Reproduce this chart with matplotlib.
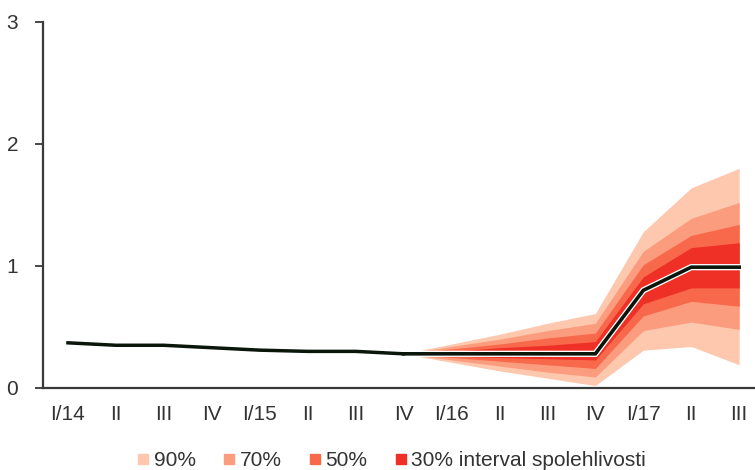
import matplotlib.pyplot as plt
from matplotlib.lines import Line2D

plt.rcParams['font.family'] = ['Liberation Sans', 'DejaVu Sans']

quarters = ['I/14', 'II', 'III', 'IV', 'I/15', 'II', 'III', 'IV',
            'I/16', 'II', 'III', 'IV', 'I/17', 'II', 'III']

# central path
central = [0.37, 0.35, 0.35, 0.33, 0.31, 0.30, 0.30, 0.28,
           0.28, 0.28, 0.28, 0.28, 0.80, 0.99, 0.99]

# fan starts at IV/15 (index 7)
fan_start = 7
lo90 = [0.28, 0.21, 0.14, 0.08, 0.02, 0.31, 0.34, 0.19]
lo70 = [0.28, 0.23, 0.18, 0.13, 0.09, 0.47, 0.54, 0.48]
lo50 = [0.28, 0.25, 0.22, 0.19, 0.16, 0.59, 0.71, 0.67]
lo30 = [0.28, 0.26, 0.25, 0.24, 0.23, 0.69, 0.82, 0.82]
hi30 = [0.28, 0.30, 0.33, 0.35, 0.38, 0.91, 1.15, 1.19]
hi50 = [0.28, 0.32, 0.36, 0.41, 0.45, 1.01, 1.25, 1.34]
hi70 = [0.28, 0.34, 0.40, 0.47, 0.53, 1.12, 1.39, 1.52]
hi90 = [0.28, 0.36, 0.44, 0.53, 0.61, 1.28, 1.64, 1.80]

colors = {'90%': '#fdc8ae', '70%': '#fc9c7e', '50%': '#f8694b', '30%': '#ee3026'}

fig = plt.figure(figsize=(7.55, 4.7), dpi=100)
ax = fig.add_axes([0.057, 0.1745, 0.943, 0.779])

x_all = list(range(len(quarters)))
x_fan = x_all[fan_start:]

ax.fill_between(x_fan, lo90, hi90, color=colors['90%'], linewidth=0)
ax.fill_between(x_fan, lo70, hi70, color=colors['70%'], linewidth=0)
ax.fill_between(x_fan, lo50, hi50, color=colors['50%'], linewidth=0)
ax.fill_between(x_fan, lo30, hi30, color=colors['30%'], linewidth=0)

# forecast line gets a white edge, history line drawn plain
ax.plot(x_fan, central[fan_start:], color='white', linewidth=4.5, solid_joinstyle='miter')
ax.plot(x_all[:fan_start + 1], central[:fan_start + 1], color='#0b160b', linewidth=2.5)
ax.plot(x_fan, central[fan_start:], color='#0b160b', linewidth=2.6, solid_joinstyle='miter')

ax.set_xlim(-0.52, 14.33)
ax.set_ylim(0, 3)
ax.set_yticks([0, 1, 2, 3])
ax.set_xticks(x_all)
ax.set_xticklabels(quarters)

for s in ['top', 'right']:
    ax.spines[s].set_visible(False)
for s in ['left', 'bottom']:
    ax.spines[s].set_color('#3a3a3a')
    ax.spines[s].set_linewidth(1.6)

ax.tick_params(axis='y', length=6, width=1.3, color='#3a3a3a', labelsize=15,
               labelcolor='#333333', pad=12)
ax.tick_params(axis='x', length=0, labelsize=15, labelcolor='#333333', pad=12)

handles = [Line2D([], [], marker='s', linestyle='none', markersize=7,
                  markerfacecolor=colors[k], markeredgecolor=colors[k]) for k in colors]
labels = ['90%', '70%', '50%', '30% interval spolehlivosti']
fig.legend(handles, labels, loc='center', bbox_to_anchor=(0.52, 0.02), ncol=4,
           frameon=False, fontsize=15, handletextpad=0.3, columnspacing=1.4,
           handlelength=0.4, labelcolor='#333333', borderpad=0.2)

plt.savefig('out.png', dpi=100)
